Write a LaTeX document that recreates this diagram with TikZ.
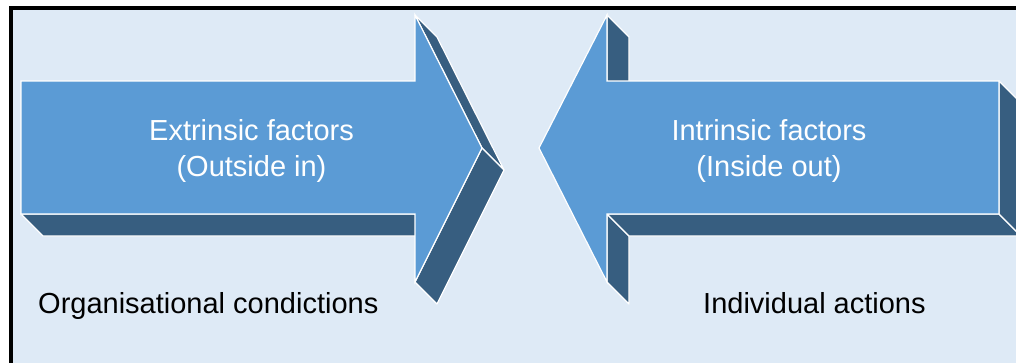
\documentclass[tikz,border=0pt]{standalone}
\usepackage{fontspec}
\setmainfont{Liberation Sans}

\definecolor{panelbg}{RGB}{222,234,246}
\definecolor{arrowface}{RGB}{91,155,213}
\definecolor{arrowside}{RGB}{55,94,128}

\begin{document}
\begin{tikzpicture}[
    x=1pt,
    y=-1pt,
    face/.style={
        fill=arrowface,
        draw=white,
        line width=1.2pt,
        line join=miter
    },
    side/.style={
        fill=arrowside,
        draw=white,
        line width=1.2pt,
        line join=round
    },
    factor/.style={
        text=white,
        font=\fontsize{29}{36}\selectfont,
        align=center
    },
    caption/.style={
        text=black,
        font=\fontsize{29}{36}\selectfont,
        anchor=base west,
        inner sep=0pt
    }
]

\clip (0,0) rectangle (1016,362);
\fill[white] (0,0) rectangle (1016,362);

% Panel frame
\draw[line width=4pt, fill=panelbg] (11,8) rectangle (1040,390);

% Extrinsic arrow (pointing right)
\draw[side] (415,214) -- (21,214) -- (43,236) -- (437,236) -- cycle;
\draw[side] (415,15) -- (482,148) -- (504,170) -- (437,37) -- cycle;
\draw[side] (482,148) -- (415,282) -- (437,304) -- (504,170) -- cycle;
\draw[face] (21,81) -- (415,81) -- (415,15) -- (482,148) -- (415,282)
    -- (415,214) -- (21,214) -- cycle;

% Intrinsic arrow (pointing left)
\draw[side] (607,81) -- (607,15) -- (629,37) -- (629,103) -- cycle;
\draw[side] (607,282) -- (607,214) -- (629,236) -- (629,304) -- cycle;
\draw[side] (607,214) -- (999,214) -- (1021,236) -- (629,236) -- cycle;
\draw[side] (999,214) -- (999,81) -- (1021,103) -- (1021,236) -- cycle;
\draw[face] (999,81) -- (607,81) -- (607,15) -- (539,148) -- (607,282)
    -- (607,214) -- (999,214) -- cycle;

% Labels
\node[factor] (extrinsic) at (251.5,150.5) {Extrinsic factors\\(Outside in)};
\node[factor] (intrinsic) at (769,150.5) {Intrinsic factors\\(Inside out)};

\node[caption] (organisational) at (38,313) {Organisational condictions};
\node[caption] (individual) at (703,313) {Individual actions};

\end{tikzpicture}
\end{document}
